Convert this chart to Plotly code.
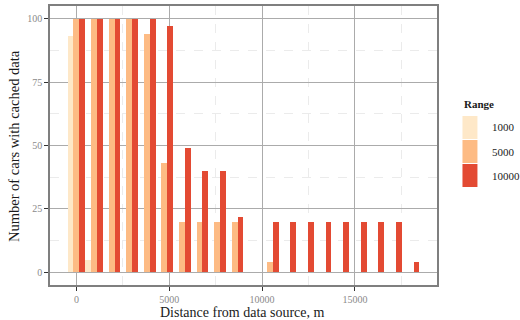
import plotly.graph_objects as go

distance = [0, 947, 1895, 2842, 3789, 4737, 5684, 6632, 7579, 8526,
            9474, 10421, 11368, 12316, 13263, 14211, 15158, 16105, 17053, 18000]
range_labels = ["1000", "5000", "10000"]
cars_1000 = [93, 5, 0, 0, 0, 0, 0, 0, 0, 0, 0, 0, 0, 0, 0, 0, 0, 0, 0, 0]
cars_5000 = [100, 100, 100, 100, 94, 43, 20, 20, 20, 20, 0, 4, 0, 0, 0, 0, 0, 0, 0, 0]
cars_10000 = [100, 100, 100, 100, 100, 97, 49, 40, 40, 22, 0, 20, 20, 20, 20, 20, 20, 20, 20, 4]
colors = ["#FEE8C8", "#FDBB84", "#E34A33"]
x_ticks = [0, 5000, 10000, 15000]
y_ticks = [0, 25, 50, 75, 100]

font = "Liberation Serif"
L, R, T, B = 50, 82.5, 6, 35
W, H = 520, 320
plot_w = W - L - R
plot_h = H - T - B

def px_x(px):
    return (px - L) / plot_w

def px_y(py):
    return (H - B - py) / plot_h

fig = go.Figure()
for name, vals, col in zip(range_labels, [cars_1000, cars_5000, cars_10000], colors):
    fig.add_trace(go.Bar(x=distance, y=vals, name=name, marker=dict(color=col, line=dict(width=0)),
                         showlegend=False))

fig.update_layout(
    width=W, height=H,
    margin=dict(l=L, r=R, t=T, b=B, autoexpand=False),
    paper_bgcolor="white", plot_bgcolor="white",
    barmode="group", bargap=0, bargroupgap=0,
    font=dict(family=font, size=10, color="#8a8a8a"),
)
axis_common = dict(
    showgrid=True, gridcolor="#ababab", gridwidth=1,
    ticks="outside", ticklen=4, tickcolor="#333333", tickwidth=1,
    showline=True, linecolor="#7f7f7f", linewidth=1.5, mirror=True, zeroline=False,
    tickfont=dict(family=font, size=10, color="#8a8a8a"), automargin=False,
)
fig.update_xaxes(
    range=[-1421, 19421], tickvals=x_ticks, ticktext=[str(v) for v in x_ticks],
    minor=dict(tickvals=[2500, 7500, 12500, 17500], showgrid=True, gridcolor="#ebebeb", griddash="dash", gridwidth=1),
    **axis_common,
)
fig.update_yaxes(
    range=[-5, 105], tickvals=y_ticks, ticktext=[str(v) for v in y_ticks],
    minor=dict(tickvals=[12.5, 37.5, 62.5, 87.5], showgrid=True, gridcolor="#ebebeb", griddash="dash", gridwidth=1),
    **axis_common,
)

# axis titles
fig.add_annotation(x=px_x(243), y=px_y(312), xref="paper", yref="paper",
                   text="Distance from data source, m", showarrow=False,
                   xanchor="center", yanchor="middle",
                   font=dict(family=font, size=14, color="#1a1a1a"))
fig.add_annotation(x=px_x(14), y=px_y(146), xref="paper", yref="paper",
                   text="Number of cars with cached data", showarrow=False, textangle=-90,
                   xanchor="center", yanchor="middle",
                   font=dict(family=font, size=14.5, color="#1a1a1a"))

# custom legend (ggplot-style keys)
key_x0, key_x1 = 463, 478
top = 116
key_h = 23
fig.add_annotation(x=px_x(463), y=px_y(104), xref="paper", yref="paper",
                   text="<b>Range</b>", showarrow=False, xanchor="left", yanchor="middle",
                   font=dict(family=font, size=11, color="#1a1a1a"))
for i, (lab, col) in enumerate(zip(range_labels, colors)):
    y0 = top + i * (key_h + 1)
    fig.add_shape(type="rect", xref="paper", yref="paper",
                  x0=px_x(key_x0), x1=px_x(key_x1),
                  y0=px_y(y0), y1=px_y(y0 + key_h),
                  fillcolor=col, line=dict(width=0))
    fig.add_annotation(x=px_x(491), y=px_y(y0 + key_h / 2), xref="paper", yref="paper",
                       text=lab, showarrow=False, xanchor="left", yanchor="middle",
                       font=dict(family=font, size=11, color="#1a1a1a"))

fig.write_html("out.html", config={"displayModeBar": False},
               post_script="document.body.style.margin='0';document.body.style.overflow='hidden';")
